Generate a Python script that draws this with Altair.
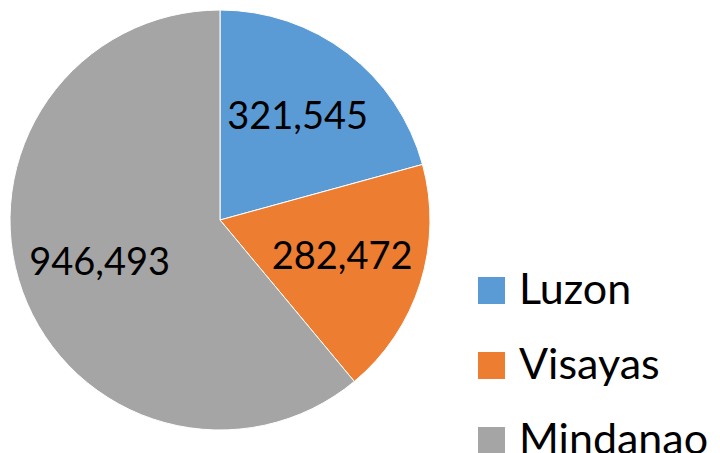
import altair as alt
import pandas as pd

regions = ["Luzon", "Visayas", "Mindanao"]
values = [321545, 282472, 946493]
labels = ["321,545", "282,472", "946,493"]
colors = ["#5B9BD5", "#ED7D31", "#A5A5A5"]

df = pd.DataFrame({"region": regions, "value": values, "label": labels, "order": [0, 1, 2]})

base = alt.Chart(df).encode(
    theta=alt.Theta("value:Q", stack=True),
    order=alt.Order("order:Q"),
)

pie = base.mark_arc(outerRadius=210, stroke="white", strokeWidth=1).encode(
    color=alt.Color(
        "region:N",
        sort=regions,
        scale=alt.Scale(domain=regions, range=colors),
        legend=alt.Legend(
            title=None,
            orient="none",
            legendX=461,
            legendY=259,
            symbolType="square",
            symbolSize=729,
            symbolStrokeWidth=0,
            labelFontSize=43,
            labelFont="Lato",
            labelColor="black",
            labelOffset=6,
            labelLimit=300,
            rowPadding=31,
            padding=0,
        ),
    )
)

text = base.mark_text(radius=128, fontSize=38, font="Lato", color="black").encode(
    text="label:N"
)

chart = (
    (pie + text)
    .properties(width=422, height=420, padding=0)
    .configure_view(stroke=None)
)

chart.save("out.html", embed_options={"renderer": "svg", "actions": False})
